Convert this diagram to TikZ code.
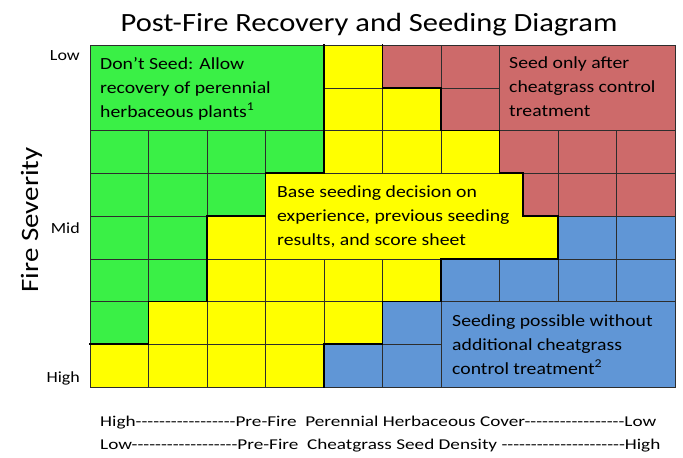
\documentclass[tikz,border=0pt]{standalone}
\usepackage{fontspec}
\setmainfont{Carlito}[Ligatures=TeXOff, FakeStretch=1.16]
\newfontfamily\widefont{Carlito}[Ligatures=TeXOff, FakeStretch=1.28]
\usepackage{xcolor}
\definecolor{dontgreen}{RGB}{58,240,70}
\definecolor{baseyellow}{RGB}{255,255,0}
\definecolor{cheatred}{RGB}{205,106,106}
\definecolor{possblue}{RGB}{96,150,214}
\definecolor{gridgray}{RGB}{45,45,45}

\begin{document}
\begin{tikzpicture}[x=1pt, y=-1pt,
	cellgrid/.style={gridgray, line width=0.5pt},
	textbox/.style={draw=gridgray, line width=0.5pt},
	stair/.style={black, line width=1.8pt, line join=miter, line cap=rect},
	celltext/.style={anchor=base west, align=left, inner sep=0pt, font=\fontsize{17}{24}\selectfont},
	sevtext/.style={anchor=base east, inner sep=0pt, font=\fontsize{15.5}{18}\selectfont},
	axistext/.style={anchor=base west, inner sep=0pt, font=\widefont\fontsize{15}{18}\selectfont}]
	\useasboundingbox (0,0) rectangle (683,458);

	\node [anchor=base, inner sep=0pt, font=\fontsize{26.3}{30}\selectfont] (title) at (369,31) {Post-Fire Recovery and Seeding Diagram};

	\begin{scope}[shift={(90,45)}, x=58.5pt, y=-42.75pt]
		% colour regions
		\fill [baseyellow] (0,0) rectangle (10,8);
		\fill [dontgreen] (0,0) -- (4,0) -- (4,3) -- (3,3) -- (3,4) -- (2,4) -- (2,6) -- (1,6) -- (1,7) -- (0,7) -- cycle;
		\fill [cheatred] (5,0) -- (10,0) -- (10,4) -- (7.4,4) -- (7.4,3) -- (7,3) -- (7,2) -- (6,2) -- (6,1) -- (5,1) -- cycle;
		\fill [possblue] (8,4) -- (10,4) -- (10,8) -- (4,8) -- (4,7) -- (5,7) -- (5,6) -- (6,6) -- (6,5) -- (8,5) -- cycle;

		% cells
		\foreach \c in {0,...,10}
			\draw [cellgrid] (\c,0) -- (\c,8);
		\foreach \r in {0,...,8}
			\draw [cellgrid] (0,\r) -- (10,\r);

		% text boxes over the cells
		\filldraw [textbox, fill=dontgreen] (0,0) rectangle (4,2);
		\filldraw [textbox, fill=cheatred] (7,0) rectangle (10,2);
		\filldraw [textbox, fill=possblue] (6,6) rectangle (10,8);
		\filldraw [textbox, fill=baseyellow] (3,3) -- (7.4,3) -- (7.4,4) -- (8,4) -- (8,5) -- (3,5) -- cycle;

		% region borders
		\draw [stair] (4,0) -- (4,3) -- (3,3) -- (3,4) -- (2,4) -- (2,6) -- (1,6) -- (1,7) -- (0,7);
		\draw [stair] (5,0) -- (5,1) -- (6,1) -- (6,2) -- (7,2) -- (7,3) -- (7.4,3) -- (7.4,4) -- (8,4);
		\draw [stair] (8,4) -- (8,5) -- (6,5) -- (6,6) -- (5,6) -- (5,7) -- (4,7) -- (4,8);
	\end{scope}

	% base anchor of a multi-line node sits on its last line
	\node [celltext] (dontseed) at (100,117) {Don’t Seed: Allow\\recovery of perennial\\herbaceous plants\textsuperscript{1}};
	\node [celltext] (seedafter) at (509,116) {Seed only after\\cheatgrass control\\treatment};
	\node [celltext] (basedecision) at (277,245) {Base seeding decision on\\experience, previous seeding\\results, and score sheet};
	\node [celltext] (seedpossible) at (452,374) {Seeding possible without\\additional cheatgrass\\control treatment\textsuperscript{2}};

	% severity axis
	\node [anchor=base, rotate=90, inner sep=0pt, font=\fontsize{25}{30}\selectfont] (severity) at (38,220) {Fire Severity};
	\node [sevtext] (lowsev) at (80,60) {Low};
	\node [sevtext] (midsev) at (80,233) {Mid};
	\node [sevtext] (highsev) at (80,382) {High};

	% cover and density axis
	\node [axistext] (covertext) at (100,426) {High-----------------Pre-Fire\ \ Perennial Herbaceous Cover-----------------Low};
	\node [axistext] (densitytext) at (100,449) {Low------------------Pre-Fire\ \ Cheatgrass Seed Density ---------------------High};
\end{tikzpicture}
\end{document}
